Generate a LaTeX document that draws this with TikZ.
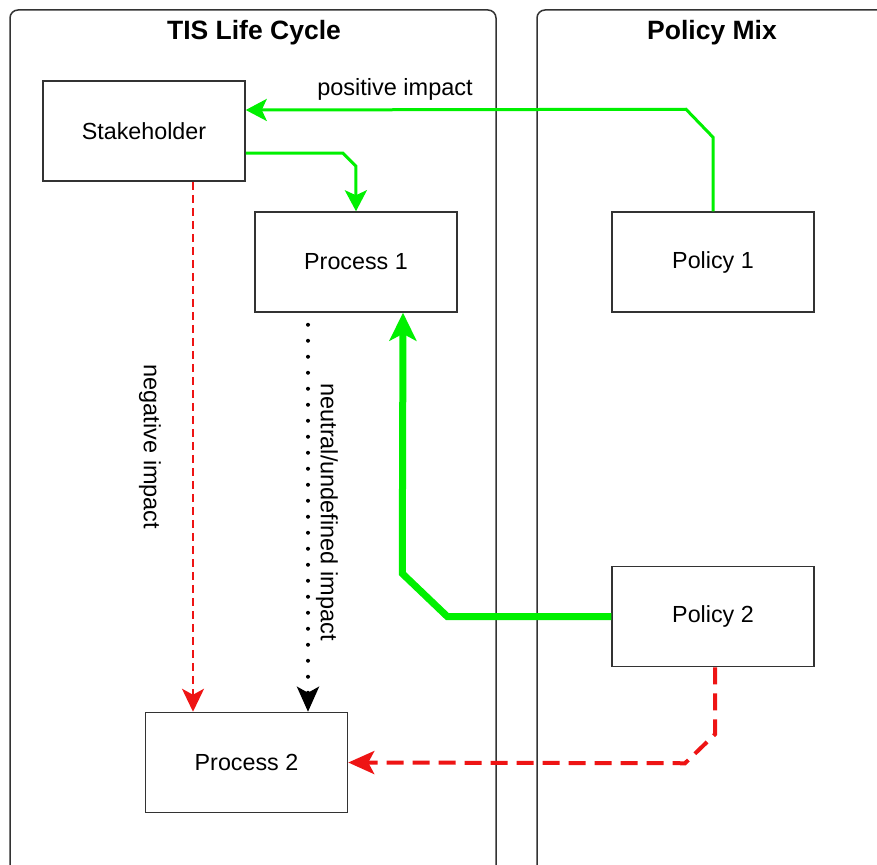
\documentclass[tikz,border=0pt]{standalone}
\usepackage{fontspec}
\setmainfont{Liberation Sans}
\usetikzlibrary{arrows.meta,calc}

\definecolor{edge}{RGB}{51,51,51}
\definecolor{grn}{RGB}{0,240,0}
\definecolor{rd}{RGB}{238,20,20}

\tikzset{
  panel/.style={draw=edge, line width=1.5pt, rounded corners=8pt},
  lanetitle/.style={font=\fontsize{26.5}{30}\selectfont\bfseries},
  box/.style={draw=edge, line width=1.5pt, fill=white, minimum width=202pt,
    minimum height=100pt, inner sep=0pt, font=\fontsize{23.3}{27}\selectfont},
  lbl/.style={font=\fontsize{23.5}{27}\selectfont, inner sep=0pt},
  goodline/.style={draw=grn, line width=3pt,
    -{Stealth[length=21pt,width=22pt,inset=5pt]}},
  goodbig/.style={draw=grn, line width=7pt,
    -{Stealth[length=28pt,width=27pt,inset=7pt]}},
  badline/.style={draw=rd, line width=2pt, dash pattern=on 8pt off 5pt,
    -{Stealth[length=23pt,width=22pt,inset=6pt]}},
  badbig/.style={draw=rd, line width=4pt, dash pattern=on 17pt off 9pt,
    -{Stealth[length=26pt,width=23pt,inset=6pt]}},
  neutralline/.style={draw=black, line width=4pt, line cap=round,
    dash pattern=on 0pt off 16pt,
    -{Stealth[length=25pt,width=22pt,inset=6pt,line cap=butt]}},
}

\begin{document}
\begin{tikzpicture}[x=1pt,y=-1pt]
  \useasboundingbox (0,0) rectangle (877,864);
  \clip (0,0) rectangle (877,864);

  % the two swim lanes
  \draw[panel] (10,10) rectangle (496,890);
  \draw[panel] (537,10) rectangle (900,890);
  \node[lanetitle] (tlc) at (254,33) {TIS Life Cycle};
  \node[lanetitle] (pmix) at (712,33) {Policy Mix};

  % boxes
  \node[box] (stake) at (144,131) {Stakeholder};
  \node[box] (proc1) at (356,262) {Process 1};
  \node[box] (pol1)  at (713,262) {Policy 1};
  \node[box] (pol2)  at (713,616.5) {Policy 2};
  \node[box] (proc2) at (246.5,762.5) {Process 2};

  % positive impacts
  \draw[goodline] (pol1.north) -- ++(0,-74) -- ++(-27,-28)
    -- ([yshift=21pt]stake.east);
  \node[lbl] (poslbl) at (395,89) {positive impact};
  \draw[goodline] ([yshift=-22pt]stake.east) -- ++(97,0) -- ++(13,13)
    -- (proc1.north);
  \draw[goodbig] (pol2.west) -- ++(-164,0) -- ++(-45,-43)
    -- ([xshift=47pt]proc1.south);

  % negative impacts
  \draw[badline] ([xshift=49pt]stake.south) -- ([xshift=-53.5pt]proc2.north);
  \node[lbl, rotate=-90] (neglbl) at (150,447) {negative impact};
  \draw[badbig] ([xshift=2pt]pol2.south) -- ++(0,67) -- ++(-30,29)
    -- (proc2.east);

  % neutral impact
  \draw[neutralline] ([xshift=-48pt,yshift=-12pt]proc1.south)
    -- ([xshift=61.5pt]proc2.north);
  \node[lbl, rotate=-90] (neulbl) at (327,512) {neutral/undefined impact};
\end{tikzpicture}
\end{document}
